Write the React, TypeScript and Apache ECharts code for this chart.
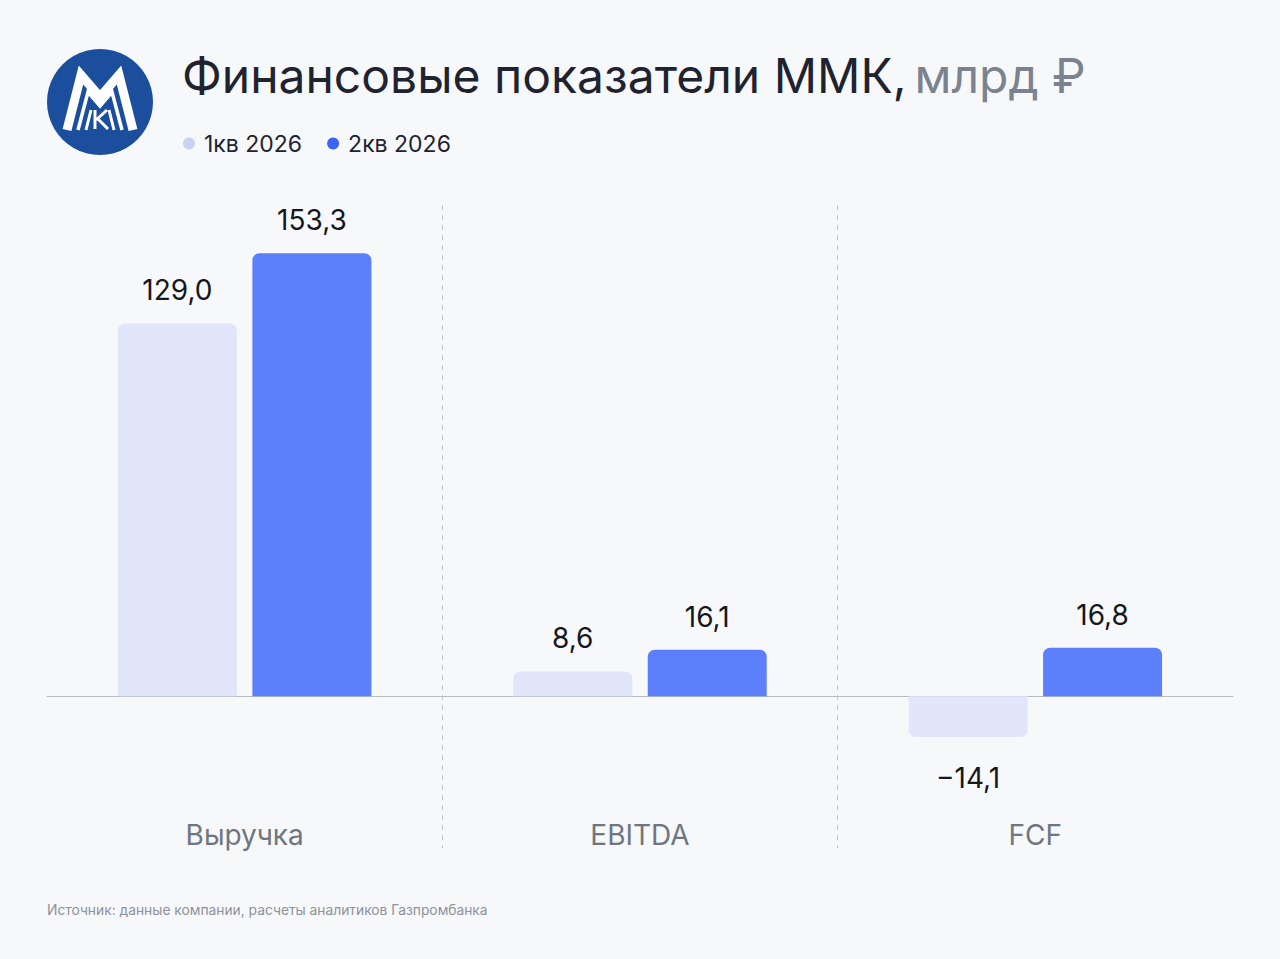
import React, { useEffect, useRef } from "react";
import * as echarts from "echarts";

const categories = ["Выручка", "EBITDA", "FCF"];
const seriesNames = ["1кв 2026", "2кв 2026"];
const q1Values = [129.0, 8.6, -14.1];
const q2Values = [153.3, 16.1, 16.8];
const titleMain = "Финансовые показатели ММК,";
const titleUnit = "млрд ₽";
const sourceText = "Источник: данные компании, расчеты аналитиков Газпромбанка";

const FONT = "Inter, 'Noto Sans', sans-serif";
const BAR_COLORS = ["#e1e6fb", "#5c80fb"];
const LEGEND_COLORS = ["#c8d2f5", "#3d63f0"];

function fmt(v: number): string {
  const s = Math.abs(v).toFixed(1).replace(".", ",");
  return v < 0 ? "\u2212" + s : s;
}

function makeData(values: number[]) {
  return values.map((v) => ({
    value: v,
    itemStyle: { borderRadius: v >= 0 ? [7, 7, 0, 0] : [0, 0, 7, 7] },
    label: { position: v >= 0 ? "top" : "bottom", distance: v >= 0 ? 19 : 27 },
  }));
}

export default function App() {
  const ref = useRef<HTMLDivElement>(null);
  useEffect(() => {
    if (!ref.current) return;
    const chart = echarts.init(ref.current, undefined, { renderer: "svg" });
    const white = { stroke: "#ffffff", fill: "none", lineJoin: "miter" as const };
    chart.setOption({
      animation: false,
      backgroundColor: "#f7f8fa",
      textStyle: { fontFamily: FONT },
      title: [
        {
          text: `{a|${titleMain}}{b|${titleUnit}}`,
          left: 177,
          top: 46,
          textStyle: {
            rich: {
              a: { fontSize: 48, color: "#1f2330", fontFamily: FONT, fontWeight: 400 },
              b: { fontSize: 48, color: "#7b838f", fontFamily: FONT, fontWeight: 400, padding: [0, 0, 0, 8] },
            },
          },
        },
        {
          text: sourceText,
          left: 42,
          top: 898,
          textStyle: { fontSize: 13.8, color: "#8d929b", fontWeight: 400, fontFamily: FONT },
        },
      ],
      legend: {
        left: 178,
        top: 127,
        icon: "circle",
        itemWidth: 12,
        itemHeight: 12,
        itemGap: 25,
        textStyle: { fontSize: 23, color: "#1f2330", fontFamily: FONT, padding: [0, 0, 0, 4] },
        data: seriesNames.map((n, i) => ({ name: n, itemStyle: { color: LEGEND_COLORS[i] } })),
      },
      grid: { left: 47, right: 47, top: 205, height: 643 },
      xAxis: [
        {
          type: "category",
          data: categories,
          axisLine: { show: true, onZero: true, lineStyle: { color: "#b7bbc2", width: 1 } },
          axisTick: { show: false },
          axisLabel: { show: false },
          splitLine: {
            show: true,
            showMinLine: false,
            showMaxLine: false,
            lineStyle: { type: [5, 5], color: "#c4c7cc", width: 1 },
          },
        },
        {
          type: "category",
          data: categories,
          position: "bottom",
          axisLine: { show: false, onZero: false },
          axisTick: { show: false },
          splitLine: { show: false },
          axisLabel: {
            margin: -13,
            verticalAlign: "middle",
            fontSize: 28,
            color: "#6f7681",
            fontFamily: FONT,
          },
        },
      ],
      yAxis: { type: "value", min: -52.5, max: 170, show: false, splitLine: { show: false } },
      series: [q1Values, q2Values].map((vals, i) => ({
        type: "bar",
        name: seriesNames[i],
        xAxisIndex: 0,
        barWidth: 119,
        barGap: "13%",
        itemStyle: { color: BAR_COLORS[i] },
        label: {
          show: true,
          fontSize: 28,
          color: "#15171c",
          fontFamily: FONT,
          formatter: (p: any) => fmt(p.value),
        },
        data: makeData(vals),
      })),
      graphic: [
        { type: "circle", shape: { cx: 100, cy: 102, r: 53 }, style: { fill: "#1b4f9e" } },
        {
          type: "polyline",
          shape: { points: [[67, 130], [81, 75], [100, 97], [119, 75], [133, 130]] },
          style: { ...white, lineWidth: 9 },
        },
        {
          type: "polyline",
          shape: { points: [[78, 130], [88, 92], [100, 106], [112, 92], [122, 130]] },
          style: { ...white, lineWidth: 3.5 },
        },
        { type: "line", shape: { x1: 86, y1: 130, x2: 91, y2: 110 }, style: { stroke: "#fff", lineWidth: 3 } },
        { type: "line", shape: { x1: 114, y1: 130, x2: 109, y2: 110 }, style: { stroke: "#fff", lineWidth: 3 } },
        { type: "line", shape: { x1: 95, y1: 110, x2: 95, y2: 129 }, style: { stroke: "#fff", lineWidth: 3 } },
        { type: "line", shape: { x1: 96, y1: 120, x2: 107, y2: 110 }, style: { stroke: "#fff", lineWidth: 3 } },
        { type: "line", shape: { x1: 98, y1: 119, x2: 108, y2: 129 }, style: { stroke: "#fff", lineWidth: 3 } },
      ],
    });
    return () => chart.dispose();
  }, []);
  return (
    <div
      ref={ref}
      style={{ position: "absolute", left: 0, top: 0, width: 1280, height: 959 }}
    />
  );
}
